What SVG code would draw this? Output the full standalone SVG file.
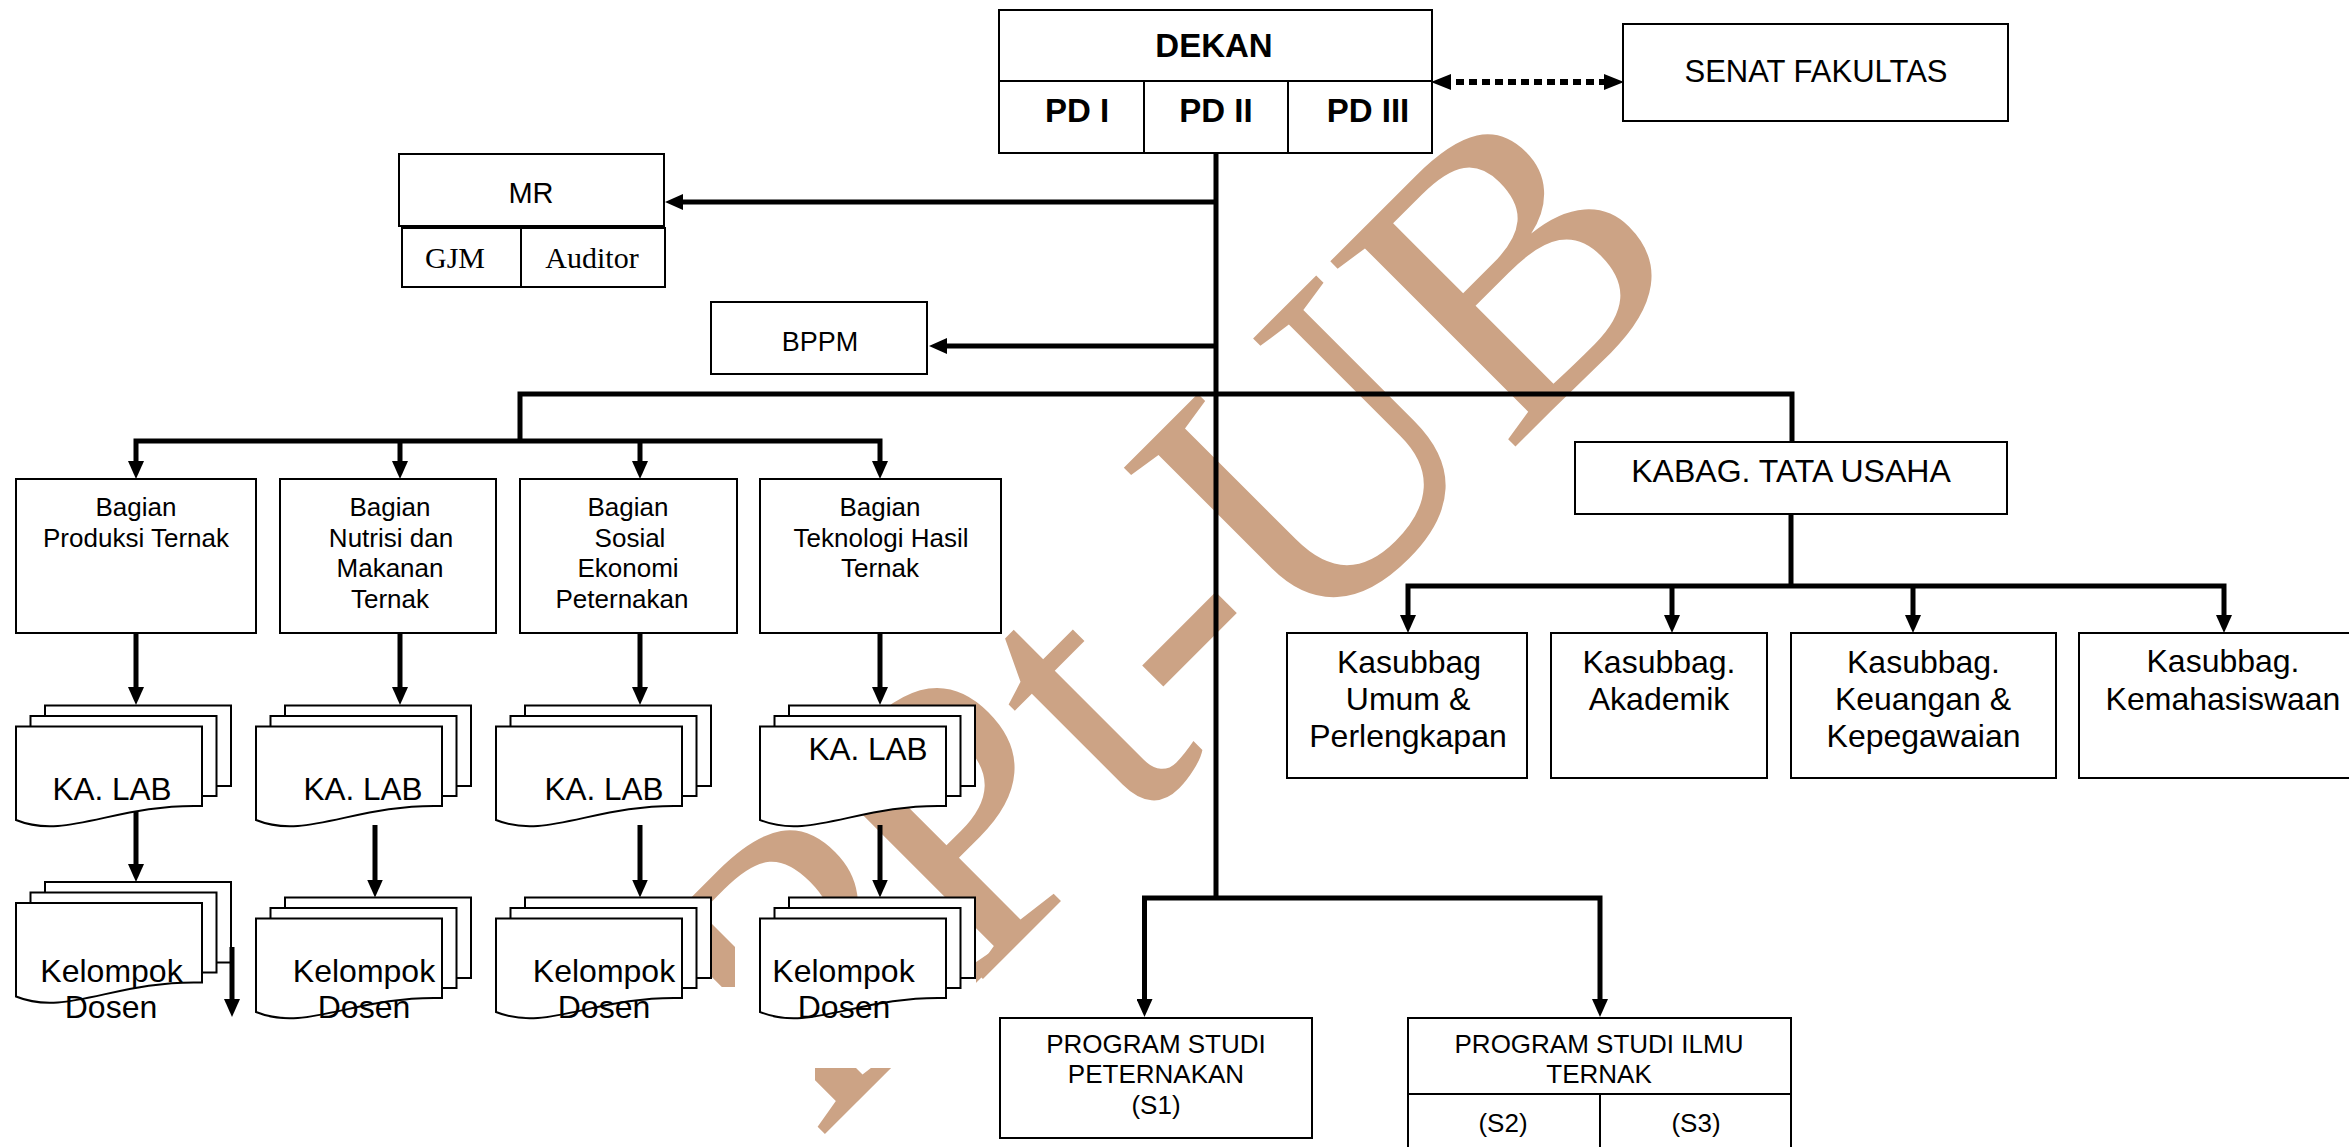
<svg xmlns="http://www.w3.org/2000/svg" width="2349" height="1147" viewBox="0 0 2349 1147">
<style>
.b{fill:#fff;stroke:#000;stroke-width:2}
.ln{fill:none;stroke:#000;stroke-width:2}
.c{fill:none;stroke:#000;stroke-width:5;stroke-linejoin:miter}
.dot{fill:none;stroke:#000;stroke-width:6;stroke-dasharray:8 5}
.t{font-family:"Liberation Sans",Arial,sans-serif;fill:#000;text-anchor:middle}
.bold{font-weight:bold;font-size:33px}
.s26{font-size:26px}
.s32{font-size:32px}
.tm{font-family:"Liberation Serif","Times New Roman",serif;fill:#000;text-anchor:middle;font-size:30px}
.wm{font-family:"Liberation Serif","Times New Roman",serif;fill:#CCA385;font-size:400px}
.mask{fill:#fff}
</style>
<defs>
<marker id="ah" markerUnits="userSpaceOnUse" markerWidth="18" markerHeight="16" viewBox="0 0 18 16" refX="8" refY="8" orient="auto-start-reverse"><path d="M0,0 L18,8 L0,16 Z" fill="#000"/></marker>
<marker id="ad" markerUnits="userSpaceOnUse" markerWidth="20" markerHeight="16" viewBox="0 0 20 16" refX="8" refY="8" orient="auto-start-reverse"><path d="M0,0 L20,8 L0,16 Z" fill="#000"/></marker>
<g id="stack">
<rect class="b" x="29" y="0" width="186" height="80.5"/>
<rect class="b" x="14.5" y="10.5" width="186" height="80"/>
<path class="b" d="M0,21 H186 V100.5 C100,98 50,135 0,114.5 Z"/>
</g>
</defs>
<rect x="0" y="0" width="2349" height="1147" fill="#fff"/>
<g id="watermark">
<text class="wm" transform="translate(815,1144) rotate(-45)">R</text>
<text class="wm" transform="translate(973,989) rotate(-45)">Pt-UB</text>
<rect class="mask" x="735" y="923" width="241" height="145"/>
<rect class="mask" x="712" y="987" width="23" height="81"/>
<rect class="mask" x="712" y="1068" width="103" height="79"/>
</g>

<g id="connectors">
<path class="c" d="M1216,154 V898"/>
<path class="c" d="M1216,202 H675" marker-end="url(#ah)"/>
<path class="c" d="M1216,346 H939" marker-end="url(#ah)"/>
<path class="c" d="M520,441 V394 H1792 V442"/>
<path class="c" d="M136,469 V441 H880 V469" marker-start="url(#ah)" marker-end="url(#ah)"/>
<path class="c" d="M400,441 V469" marker-end="url(#ah)"/>
<path class="c" d="M640,441 V469" marker-end="url(#ah)"/>
<path class="c" d="M136,633 V695" marker-end="url(#ah)"/>
<path class="c" d="M400,633 V695" marker-end="url(#ah)"/>
<path class="c" d="M640,633 V695" marker-end="url(#ah)"/>
<path class="c" d="M880,633 V695" marker-end="url(#ah)"/>
<path class="c" d="M1791,514 V586"/>
<path class="c" d="M1408,623 V586 H2224 V623" marker-start="url(#ah)" marker-end="url(#ah)"/>
<path class="c" d="M1672,586 V623" marker-end="url(#ah)"/>
<path class="c" d="M1913,586 V623" marker-end="url(#ah)"/>
<path class="c" d="M1144.5,1007 V898 H1600 V1007" marker-start="url(#ah)" marker-end="url(#ah)"/>
<path class="dot" d="M1443,82 H1612" marker-start="url(#ad)" marker-end="url(#ad)"/>
</g>

<g id="dekan">
<rect class="b" x="999" y="10" width="433" height="143"/>
<path class="ln" d="M999,81 H1432 M1144,81 V153 M1288,81 V153"/>
<text class="t bold" x="1214" y="57">DEKAN</text>
<text class="t bold" x="1077" y="122" font-size="32">PD I</text>
<text class="t bold" x="1216" y="122">PD II</text>
<text class="t bold" x="1368" y="122">PD III</text>
</g>
<g id="senat">
<rect class="b" x="1623" y="24" width="385" height="97"/>
<text class="t" x="1816" y="82" font-size="31">SENAT FAKULTAS</text>
</g>
<g id="mr">
<rect class="b" x="399" y="154" width="265" height="72"/>
<text class="t" x="531" y="203" font-size="29">MR</text>
<rect class="b" x="402" y="228" width="263" height="59"/>
<path class="ln" d="M521,228 V287"/>
<text class="tm" x="455" y="268">GJM</text>
<text class="tm" x="592" y="268">Auditor</text>
</g>
<g id="bppm">
<rect class="b" x="711" y="302" width="216" height="72"/>
<text class="t" x="820" y="351" font-size="27">BPPM</text>
</g>

<g id="bagian1">
<rect class="b" x="16" y="479" width="240" height="154"/>
<text class="t s26" x="136" y="516">Bagian</text>
<text class="t s26" x="136" y="546.5">Produksi Ternak</text>
</g>
<g id="bagian2">
<rect class="b" x="280" y="479" width="216" height="154"/>
<text class="t s26" x="390" y="516">Bagian</text>
<text class="t s26" x="391" y="546.5">Nutrisi dan</text>
<text class="t s26" x="390" y="577">Makanan</text>
<text class="t s26" x="390" y="607.5">Ternak</text>
</g>
<g id="bagian3">
<rect class="b" x="520" y="479" width="217" height="154"/>
<text class="t s26" x="628" y="516">Bagian</text>
<text class="t s26" x="630" y="546.5">Sosial</text>
<text class="t s26" x="628" y="577">Ekonomi</text>
<text class="t s26" x="622" y="607.5">Peternakan</text>
</g>
<g id="bagian4">
<rect class="b" x="760" y="479" width="241" height="154"/>
<text class="t s26" x="880" y="516">Bagian</text>
<text class="t s26" x="881" y="546.5">Teknologi Hasil</text>
<text class="t s26" x="880" y="577">Ternak</text>
</g>

<g id="kalab1"><use href="#stack" x="16" y="705.5"/><text class="t" x="112" y="800" font-size="31.5">KA. LAB</text></g>
<g id="kalab2"><use href="#stack" x="256" y="705.5"/><text class="t" x="363" y="800" font-size="31.5">KA. LAB</text></g>
<g id="kalab3"><use href="#stack" x="496" y="705.5"/><text class="t" x="604" y="800" font-size="31.5">KA. LAB</text></g>
<g id="kalab4"><use href="#stack" x="760" y="705.5"/><text class="t" x="868" y="760" font-size="31.5">KA. LAB</text></g>

<g id="dosen1"><use href="#stack" x="16" y="882"/><text class="t s32" x="111.5" y="982">Kelompok</text><text class="t s32" x="111" y="1018">Dosen</text></g>
<g id="dosen2"><use href="#stack" x="256" y="897.5"/><text class="t s32" x="364" y="982">Kelompok</text><text class="t s32" x="364" y="1018">Dosen</text></g>
<g id="dosen3"><use href="#stack" x="496" y="897.5"/><text class="t s32" x="604" y="982">Kelompok</text><text class="t s32" x="604" y="1018">Dosen</text></g>
<g id="dosen4"><use href="#stack" x="760" y="897.5"/><text class="t s32" x="843.5" y="982">Kelompok</text><text class="t s32" x="844" y="1018">Dosen</text></g>

<g id="connectors-lab">
<path class="c" d="M136,812 V872" marker-end="url(#ah)"/>
<path class="c" d="M375,825 V887.5" marker-end="url(#ah)"/>
<path class="c" d="M640,825 V887.5" marker-end="url(#ah)"/>
<path class="c" d="M880,825 V887.5" marker-end="url(#ah)"/>
<path class="c" d="M232,947 V1007" marker-end="url(#ah)"/>
</g>

<g id="kabag">
<rect class="b" x="1575" y="442" width="432" height="72"/>
<text class="t s32" x="1791" y="482">KABAG. TATA USAHA</text>
</g>
<g id="umum">
<rect class="b" x="1287" y="633" width="240" height="145"/>
<text class="t s32" x="1409" y="673">Kasubbag</text>
<text class="t s32" x="1408" y="710">Umum &amp;</text>
<text class="t s32" x="1408" y="747">Perlengkapan</text>
</g>
<g id="akademik">
<rect class="b" x="1551" y="633" width="216" height="145"/>
<text class="t s32" x="1659" y="673">Kasubbag.</text>
<text class="t s32" x="1659" y="710">Akademik</text>
</g>
<g id="keuangan">
<rect class="b" x="1791" y="633" width="265" height="145"/>
<text class="t s32" x="1923.5" y="673">Kasubbag.</text>
<text class="t s32" x="1923" y="710">Keuangan &amp;</text>
<text class="t s32" x="1923.5" y="747">Kepegawaian</text>
</g>
<g id="kemahasiswaan">
<rect class="b" x="2079" y="633" width="290" height="145"/>
<text class="t s32" x="2223" y="672">Kasubbag.</text>
<text class="t s32" x="2223" y="710">Kemahasiswaan</text>
</g>

<g id="ps-s1">
<rect class="b" x="1000" y="1018" width="312" height="120"/>
<text class="t s26" x="1156" y="1053">PROGRAM STUDI</text>
<text class="t s26" x="1156" y="1083">PETERNAKAN</text>
<text class="t s26" x="1156" y="1114">(S1)</text>
</g>
<g id="ps-ilmu">
<rect class="b" x="1408" y="1018" width="383" height="160"/>
<path class="ln" d="M1408,1094 H1791 M1600,1094 V1178"/>
<text class="t s26" x="1599" y="1053">PROGRAM STUDI ILMU</text>
<text class="t s26" x="1599" y="1083">TERNAK</text>
<text class="t s26" x="1503" y="1132">(S2)</text>
<text class="t s26" x="1696" y="1132">(S3)</text>
</g>
</svg>
